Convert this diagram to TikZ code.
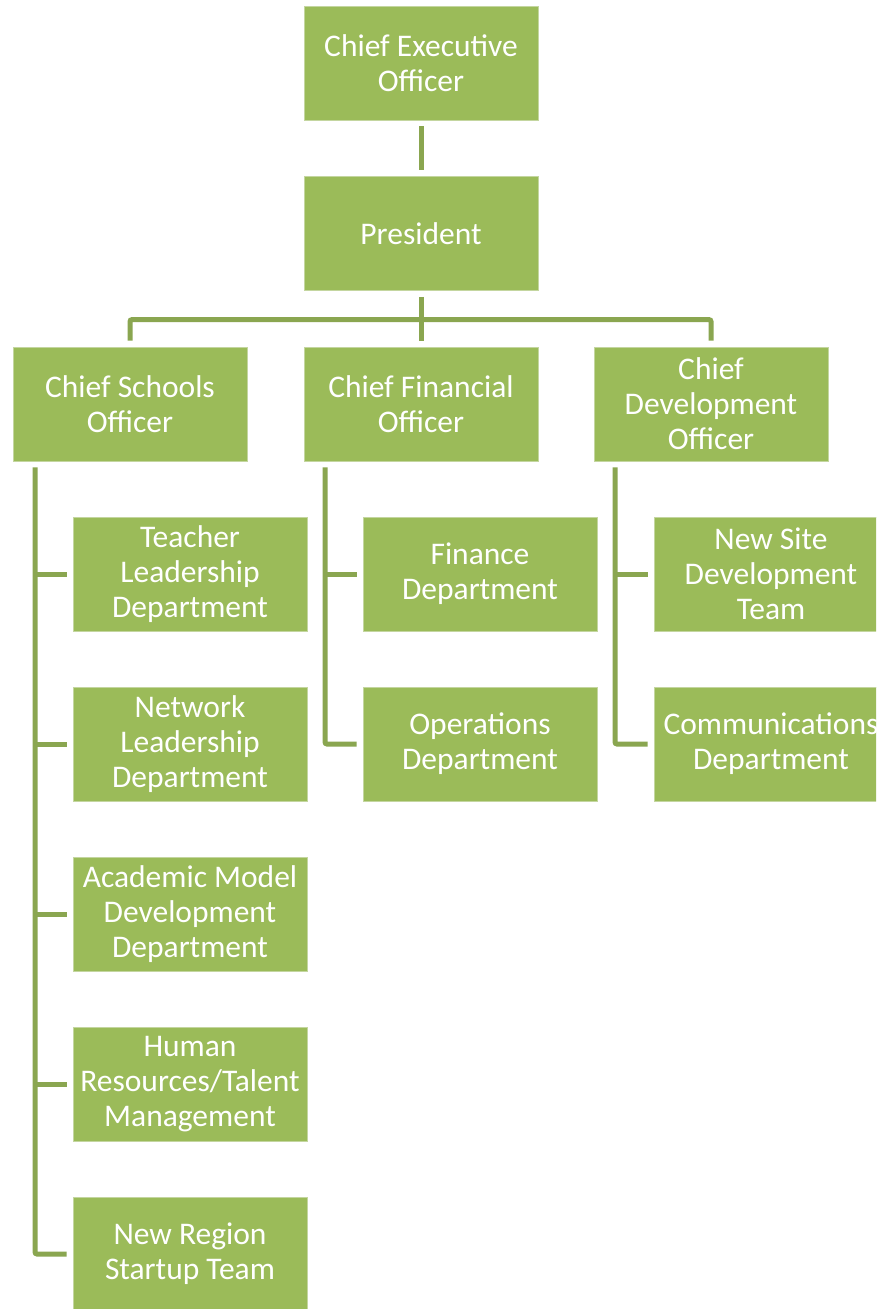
\documentclass[tikz,border=0pt]{standalone}
\usepackage{fontspec}
\setmainfont{Carlito}
\definecolor{boxgreen}{HTML}{9BBB59}
\definecolor{linegreen}{HTML}{8AA650}
\definecolor{edgegreen}{HTML}{C4D6A0}
\begin{document}
\begin{tikzpicture}[x=1pt,y=-1pt,
  box/.style={rectangle, fill=boxgreen, draw=edgegreen, line width=0.8pt,
    minimum width=234pt, minimum height=114pt, inner sep=0pt, align=center,
    text=white, font=\fontsize{31.5}{35}\selectfont},
  conn/.style={draw=linegreen, line width=5pt, rounded corners=2pt}]
\useasboundingbox (0,0) rectangle (876,1309);
\clip (0,0) rectangle (876,1309);
\fill[white] (0,0) rectangle (876,1309);
% nodes
\node[box] (ceo) at (421,63) {Chief Executive\\Officer};
\node[box] (pres) at (421,233.5) {President};
\node[box] (cso) at (130,404) {Chief Schools\\Officer};
\node[box] (cfo) at (421,404) {Chief Financial\\Officer};
\node[box] (cdo) at (711,404) {Chief\\Development\\Officer};
\node[box] (t1) at (190,574) {Teacher\\Leadership\\Department};
\node[box] (t2) at (190,744) {Network\\Leadership\\Department};
\node[box] (t3) at (190,914) {Academic Model\\Development\\Department};
\node[box] (t4) at (190,1084) {Human\\Resources/Talent\\Management};
\node[box] (t5) at (190,1254) {New Region\\Startup Team};
\node[box] (f1) at (480,574) {Finance\\Department};
\node[box] (f2) at (480,744) {Operations\\Department};
\node[box] (d1) at (771,574) {New Site\\Development\\Team};
\node[box] (d2) at (771,744) {Communications\\Department};
% connectors
\draw[conn] ([yshift=-6pt]ceo.south) -- ([yshift=6pt]pres.north);
\draw[conn] ([yshift=-6pt]pres.south) -- ([yshift=6pt]cfo.north);
\draw[conn] ([yshift=6pt]cso.north) |- ([yshift=27pt]cfo.north) -| ([yshift=6pt]cdo.north);
% left spine
\coordinate (s1) at ([xshift=-95pt,yshift=-6pt]cso.south);
\draw[conn] (s1) |- ([xshift=-6pt]t5.west);
\foreach \n in {t1,t2,t3,t4} \draw[conn] (s1 |- \n.west) -- ([xshift=-6pt]\n.west);
% middle spine
\coordinate (s2) at ([xshift=-96pt,yshift=-6pt]cfo.south);
\draw[conn] (s2) |- ([xshift=-6pt]f2.west);
\draw[conn] (s2 |- f1.west) -- ([xshift=-6pt]f1.west);
% right spine
\coordinate (s3) at ([xshift=-96pt,yshift=-6pt]cdo.south);
\draw[conn] (s3) |- ([xshift=-6pt]d2.west);
\draw[conn] (s3 |- d1.west) -- ([xshift=-6pt]d1.west);
\end{tikzpicture}
\end{document}
